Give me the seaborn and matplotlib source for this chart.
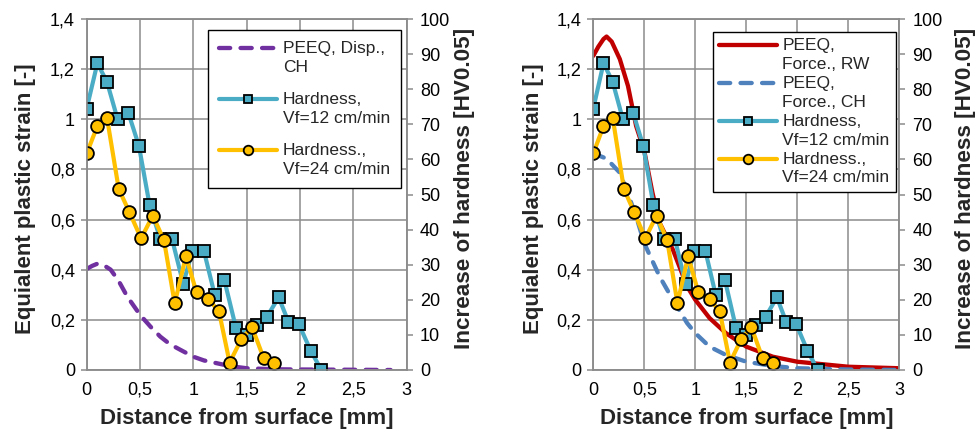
import matplotlib
matplotlib.use("Agg")
import numpy as np
import matplotlib.pyplot as plt
import seaborn as sns
from matplotlib.ticker import FixedLocator, FuncFormatter
from matplotlib.legend_handler import HandlerLine2D

sns.set_style("white")
plt.rcParams['font.family'] = ['Liberation Sans', 'DejaVu Sans']

# ---- data ----
x_hv12 = [0.0, 0.1, 0.19, 0.29, 0.39, 0.49, 0.59, 0.69, 0.80, 0.905, 0.99, 1.10,
          1.20, 1.29, 1.40, 1.50, 1.60, 1.69, 1.80, 1.89, 1.99, 2.10, 2.20]
hv12 = [74.5, 87.4, 82.1, 71.4, 73.3, 63.8, 46.9, 37.3, 37.3, 24.6, 33.8, 33.8,
        21.4, 25.7, 11.9, 10.0, 12.9, 15.2, 20.7, 13.8, 13.0, 5.5, 0.0]

x_hv24 = [0.0, 0.1, 0.19, 0.30, 0.40, 0.51, 0.62, 0.725, 0.825, 0.93, 1.03, 1.14,
          1.24, 1.34, 1.45, 1.55, 1.66, 1.76]
hv24 = [61.7, 69.5, 71.9, 51.6, 45.0, 37.5, 44.0, 36.9, 19.0, 32.4, 22.1, 20.2,
        16.7, 2.1, 8.8, 12.2, 3.3, 1.9]

x_disp_ch = [0.0, 0.05, 0.1, 0.16, 0.225, 0.3, 0.38, 0.5, 0.6, 0.69, 0.78, 0.88, 1.0,
             1.1, 1.22, 1.35, 1.5, 1.75, 2.0, 2.5, 2.85]
peeq_disp_ch = [0.403, 0.415, 0.424, 0.418, 0.40, 0.355, 0.293, 0.22, 0.172, 0.133,
                0.103, 0.08, 0.053, 0.038, 0.027, 0.015, 0.007, 0.003, 0.002, 0.001, 0.0]

x_force_rw = [0.0, 0.05, 0.1, 0.13, 0.18, 0.26, 0.34, 0.42, 0.5, 0.58, 0.65, 0.78,
              0.92, 1.0, 1.14, 1.3, 1.5, 1.76, 2.0, 2.5, 3.0]
peeq_force_rw = [1.253, 1.29, 1.32, 1.33, 1.31, 1.24, 1.133, 0.973, 0.873, 0.707,
                 0.587, 0.48, 0.333, 0.28, 0.207, 0.147, 0.093, 0.053, 0.033, 0.013, 0.007]

x_force_ch = [0.0, 0.13, 0.26, 0.36, 0.42, 0.5, 0.65, 0.78, 0.92, 1.0, 1.14, 1.3,
              1.5, 1.76, 2.0, 2.5, 3.0]
peeq_force_ch = [0.864, 0.843, 0.787, 0.68, 0.613, 0.505, 0.373, 0.28, 0.187, 0.147,
                 0.093, 0.06, 0.033, 0.016, 0.007, 0.002, 0.0]

x_ticks = [0, 0.5, 1, 1.5, 2, 2.5, 3]
strain_ticks = [0, 0.2, 0.4, 0.6, 0.8, 1.0, 1.2, 1.4]
hv_ticks = [0, 10, 20, 30, 40, 50, 60, 70, 80, 90, 100]

# ---- style ----
C_HV12 = "#4BACC6"
C_HV24 = "#FFC000"
C_PURPLE = "#7030A0"
C_RED = "#C00000"
C_BLUE = "#4F81BD"
GRID = "#8C8C8C"
FS_TICK = 13
FS_XLAB = 16
FS_YLAB = 16
FS_Y2LAB = 16.2
FS_LEG = 12.5
DASH = [2.6, 2.4]


class TopHandler(HandlerLine2D):
    """Line handle aligned with the first line of a two-line label."""
    def __init__(self, dy, **kw):
        super().__init__(**kw)
        self.dy = dy

    def create_artists(self, legend, orig_handle, xdescent, ydescent, width,
                       height, fontsize, trans):
        arts = super().create_artists(legend, orig_handle, xdescent, ydescent,
                                      width, height, fontsize, trans)
        for a in arts:
            a.set_ydata(np.asarray(a.get_ydata(), dtype=float) + self.dy)
        return arts


def comma(v, pos):
    return ("%g" % v).replace(".", ",")


fig = plt.figure(figsize=(9.79, 4.29), dpi=100)
W, H = 979, 429


def axpos(x0, x1, y0, y1):
    return [x0 / W, 1 - y1 / H, (x1 - x0) / W, (y1 - y0) / H]


ax1 = fig.add_axes(axpos(86.7, 406.7, 19, 370))
ax2 = fig.add_axes(axpos(593.3, 899.3, 19, 370))


def setup(ax, ylab_x, y2lab_x):
    ax.set_xlim(0, 3)
    ax.set_ylim(0, 1.4)
    ax.xaxis.set_major_locator(FixedLocator(x_ticks))
    ax.yaxis.set_major_locator(FixedLocator(strain_ticks))
    ax.xaxis.set_major_formatter(FuncFormatter(comma))
    ax.yaxis.set_major_formatter(FuncFormatter(comma))
    ax.grid(True, color=GRID, linewidth=1.1)
    ax.set_axisbelow(True)
    for s in ax.spines.values():
        s.set_color(GRID)
        s.set_linewidth(1.1)
    ax.tick_params(axis='both', which='major', direction='out', length=4.5, width=1.1,
                   color=GRID, labelsize=FS_TICK, pad=4, labelcolor='black')
    ax.set_xlabel("Distance from surface [mm]", fontsize=FS_XLAB, fontweight='bold')
    ax.set_ylabel("Equialent plastic strain [-]", fontsize=FS_YLAB, fontweight='bold')
    ax.xaxis.set_label_coords(0.5, -0.137)
    ax.xaxis.label.set_va('center')
    ax.yaxis.set_label_coords(ylab_x, 0.487)
    ax.yaxis.label.set_va('center')
    tw = ax.twinx()
    tw.set_ylim(0, 100)
    tw.yaxis.set_major_locator(FixedLocator(hv_ticks))
    for s in tw.spines.values():
        s.set_color(GRID)
        s.set_linewidth(1.1)
    tw.tick_params(axis='y', direction='out', length=4.5, width=1.1, color=GRID,
                   labelsize=FS_TICK, pad=5, labelcolor='black')
    tw.set_ylabel("Increase of hardness [HV0.05]", fontsize=FS_Y2LAB, fontweight='bold')
    tw.yaxis.set_label_coords(y2lab_x, 0.518)
    tw.yaxis.label.set_va('center')
    return tw


def hardness(tw):
    sns.lineplot(x=x_hv12, y=hv12, ax=tw, color=C_HV12, linewidth=3.0, marker='s',
                 markersize=8.6, markerfacecolor=C_HV12, markeredgecolor='black',
                 markeredgewidth=1.3, sort=False, estimator=None, legend=False)
    sns.lineplot(x=x_hv24, y=hv24, ax=tw, color=C_HV24, linewidth=3.0, marker='o',
                 markersize=9.2, markerfacecolor=C_HV24, markeredgecolor='black',
                 markeredgewidth=1.3, sort=False, estimator=None, legend=False)
    return tw.get_lines()[-2], tw.get_lines()[-1]


def make_legend(tw, handles, labels, anchor, labelspacing, borderpad, dy):
    hm = {h: TopHandler(dy) for h in handles}
    leg = tw.legend(handles, labels, loc='upper left', bbox_to_anchor=anchor,
                    borderaxespad=0, fontsize=FS_LEG, frameon=True, fancybox=False,
                    framealpha=1, edgecolor='black', handlelength=3.35,
                    handletextpad=0.3, labelspacing=labelspacing, borderpad=borderpad,
                    markerscale=0.75, handler_map=hm)
    leg.get_frame().set_linewidth(1.0)
    for t in leg.get_texts():
        t.set_linespacing(1.3)
    return leg


# ---- left panel ----
tw1 = setup(ax1, -0.19, 1.18)
sns.lineplot(x=x_disp_ch, y=peeq_disp_ch, ax=ax1, color=C_PURPLE, linewidth=3.1,
             sort=False, estimator=None, legend=False)
lp = ax1.get_lines()[-1]
lp.set_dashes(DASH)
lp.set_dash_capstyle('round')
h12a, h24a = hardness(tw1)
tw1.set_xlim(0, 3)
make_legend(tw1, [lp, h12a, h24a],
            ["PEEQ, Disp.,\nCH", "Hardness,\nVf=12 cm/min", "Hardness.,\nVf=24 cm/min"],
            (0.379, 0.969), 1.0, 0.65, 7.0)

# ---- right panel ----
tw2 = setup(ax2, -0.197, 1.215)
sns.lineplot(x=x_force_rw, y=peeq_force_rw, ax=ax2, color=C_RED, linewidth=3.1,
             sort=False, estimator=None, legend=False)
lr = ax2.get_lines()[-1]
sns.lineplot(x=x_force_ch, y=peeq_force_ch, ax=ax2, color=C_BLUE, linewidth=3.1,
             sort=False, estimator=None, legend=False)
lb = ax2.get_lines()[-1]
lb.set_dashes(DASH)
lb.set_dash_capstyle('round')
h12b, h24b = hardness(tw2)
tw2.set_xlim(0, 3)
make_legend(tw2, [lr, lb, h12b, h24b],
            ["PEEQ,\nForce., RW", "PEEQ,\nForce., CH", "Hardness,\nVf=12 cm/min",
             "Hardness.,\nVf=24 cm/min"],
            (0.391, 0.963), 0.25, 0.35, 7.0)

fig.savefig("out.png", dpi=100)
